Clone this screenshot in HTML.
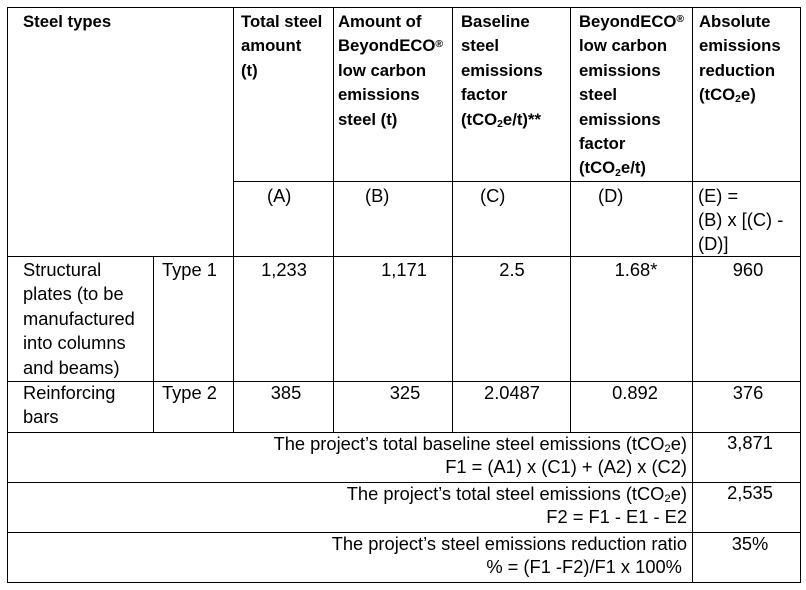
<!DOCTYPE html>
<html>
<head>
<meta charset="utf-8">
<style>
  html, body { margin:0; padding:0; background:#fff; }
  body { width:806px; height:590px; position:relative; overflow:hidden;
         font-family:"Liberation Sans", Arial, sans-serif; color:#000; }
  .h { position:absolute; height:1px; background:#000; }
  .v { position:absolute; width:1px; background:#000; }
  .b { position:absolute; font-weight:bold; font-size:16.7px; line-height:24.4px; white-space:nowrap; }
  .r { position:absolute; font-size:18.3px; line-height:24.4px; white-space:nowrap; }
  .f { position:absolute; font-size:18.3px; line-height:22.5px; white-space:nowrap; text-align:right; }
  .c { text-align:center; width:120px; }
  .s { font-size:0.62em; position:relative; top:0.22em; line-height:0; }
  .sup { font-size:0.62em; position:relative; top:-0.45em; line-height:0; }
</style>
</head>
<body>
<!-- horizontal lines -->
<div class="h" style="left:7px;top:7px;width:794px;"></div>
<div class="h" style="left:233px;top:181px;width:568px;"></div>
<div class="h" style="left:7px;top:256px;width:794px;"></div>
<div class="h" style="left:7px;top:381px;width:794px;"></div>
<div class="h" style="left:7px;top:432px;width:794px;"></div>
<div class="h" style="left:7px;top:482px;width:794px;"></div>
<div class="h" style="left:7px;top:532px;width:794px;"></div>
<div class="h" style="left:7px;top:582px;width:794px;"></div>
<!-- vertical lines -->
<div class="v" style="left:7px;top:7px;height:576px;"></div>
<div class="v" style="left:800px;top:7px;height:576px;"></div>
<div class="v" style="left:692px;top:7px;height:576px;"></div>
<div class="v" style="left:153px;top:256px;height:176px;"></div>
<div class="v" style="left:233px;top:7px;height:425px;"></div>
<div class="v" style="left:333px;top:7px;height:425px;"></div>
<div class="v" style="left:452px;top:7px;height:425px;"></div>
<div class="v" style="left:570px;top:7px;height:425px;"></div>

<!-- header -->
<div class="b" style="left:23px;top:10px;">Steel types</div>
<div class="b" style="left:241px;top:10px;">Total steel<br>amount<br>(t)</div>
<div class="b" style="left:338px;top:10px;">Amount of<br>BeyondECO<span class="sup">®</span><br>low carbon<br>emissions<br>steel (t)</div>
<div class="b" style="left:461px;top:10px;">Baseline<br>steel<br>emissions<br>factor<br>(tCO<span class="s">2</span>e/t)**</div>
<div class="b" style="left:579px;top:10px;">BeyondECO<span class="sup">®</span><br>low carbon<br>emissions<br>steel<br>emissions<br>factor<br>(tCO<span class="s">2</span>e/t)</div>
<div class="b" style="left:699px;top:10px;">Absolute<br>emissions<br>reduction<br>(tCO<span class="s">2</span>e)</div>

<!-- letters row -->
<div class="r" style="left:267px;top:184px;">(A)</div>
<div class="r" style="left:365px;top:184px;">(B)</div>
<div class="r" style="left:480px;top:184px;">(C)</div>
<div class="r" style="left:598px;top:184px;">(D)</div>
<div class="r" style="left:698px;top:184px;line-height:24px;">(E) =<br>(B) x [(C) -<br>(D)]</div>

<!-- data row 1 -->
<div class="r" style="left:23px;top:258px;">Structural<br>plates (to be<br>manufactured<br>into columns<br>and beams)</div>
<div class="r" style="left:162px;top:258px;">Type 1</div>
<div class="r c" style="left:224px;top:258px;">1,233</div>
<div class="r c" style="left:344px;top:258px;">1,171</div>
<div class="r c" style="left:452px;top:258px;">2.5</div>
<div class="r c" style="left:576px;top:258px;">1.68*</div>
<div class="r c" style="left:688px;top:258px;">960</div>

<!-- data row 2 -->
<div class="r" style="left:23px;top:381px;">Reinforcing<br>bars</div>
<div class="r" style="left:162px;top:381px;">Type 2</div>
<div class="r c" style="left:226px;top:381px;">385</div>
<div class="r c" style="left:345px;top:381px;">325</div>
<div class="r c" style="left:452px;top:381px;">2.0487</div>
<div class="r c" style="left:575px;top:381px;">0.892</div>
<div class="r c" style="left:688px;top:381px;">376</div>

<!-- footer rows -->
<div class="f" style="right:119px;top:433px;">The project’s total baseline steel emissions (tCO<span class="s">2</span>e)<br>F1 = (A1) x (C1) + (A2) x (C2)</div>
<div class="r c" style="left:690px;top:431px;">3,871</div>

<div class="f" style="right:119px;top:483px;">The project’s total steel emissions (tCO<span class="s">2</span>e)<br>F2 = F1 - E1 - E2</div>
<div class="r c" style="left:690px;top:481px;">2,535</div>

<div class="f" style="right:119px;top:533px;">The project’s steel emissions reduction ratio<br>% = (F1 -F2)/F1 x 100%&nbsp;</div>
<div class="r c" style="left:690px;top:532px;">35%</div>
</body>
</html>
